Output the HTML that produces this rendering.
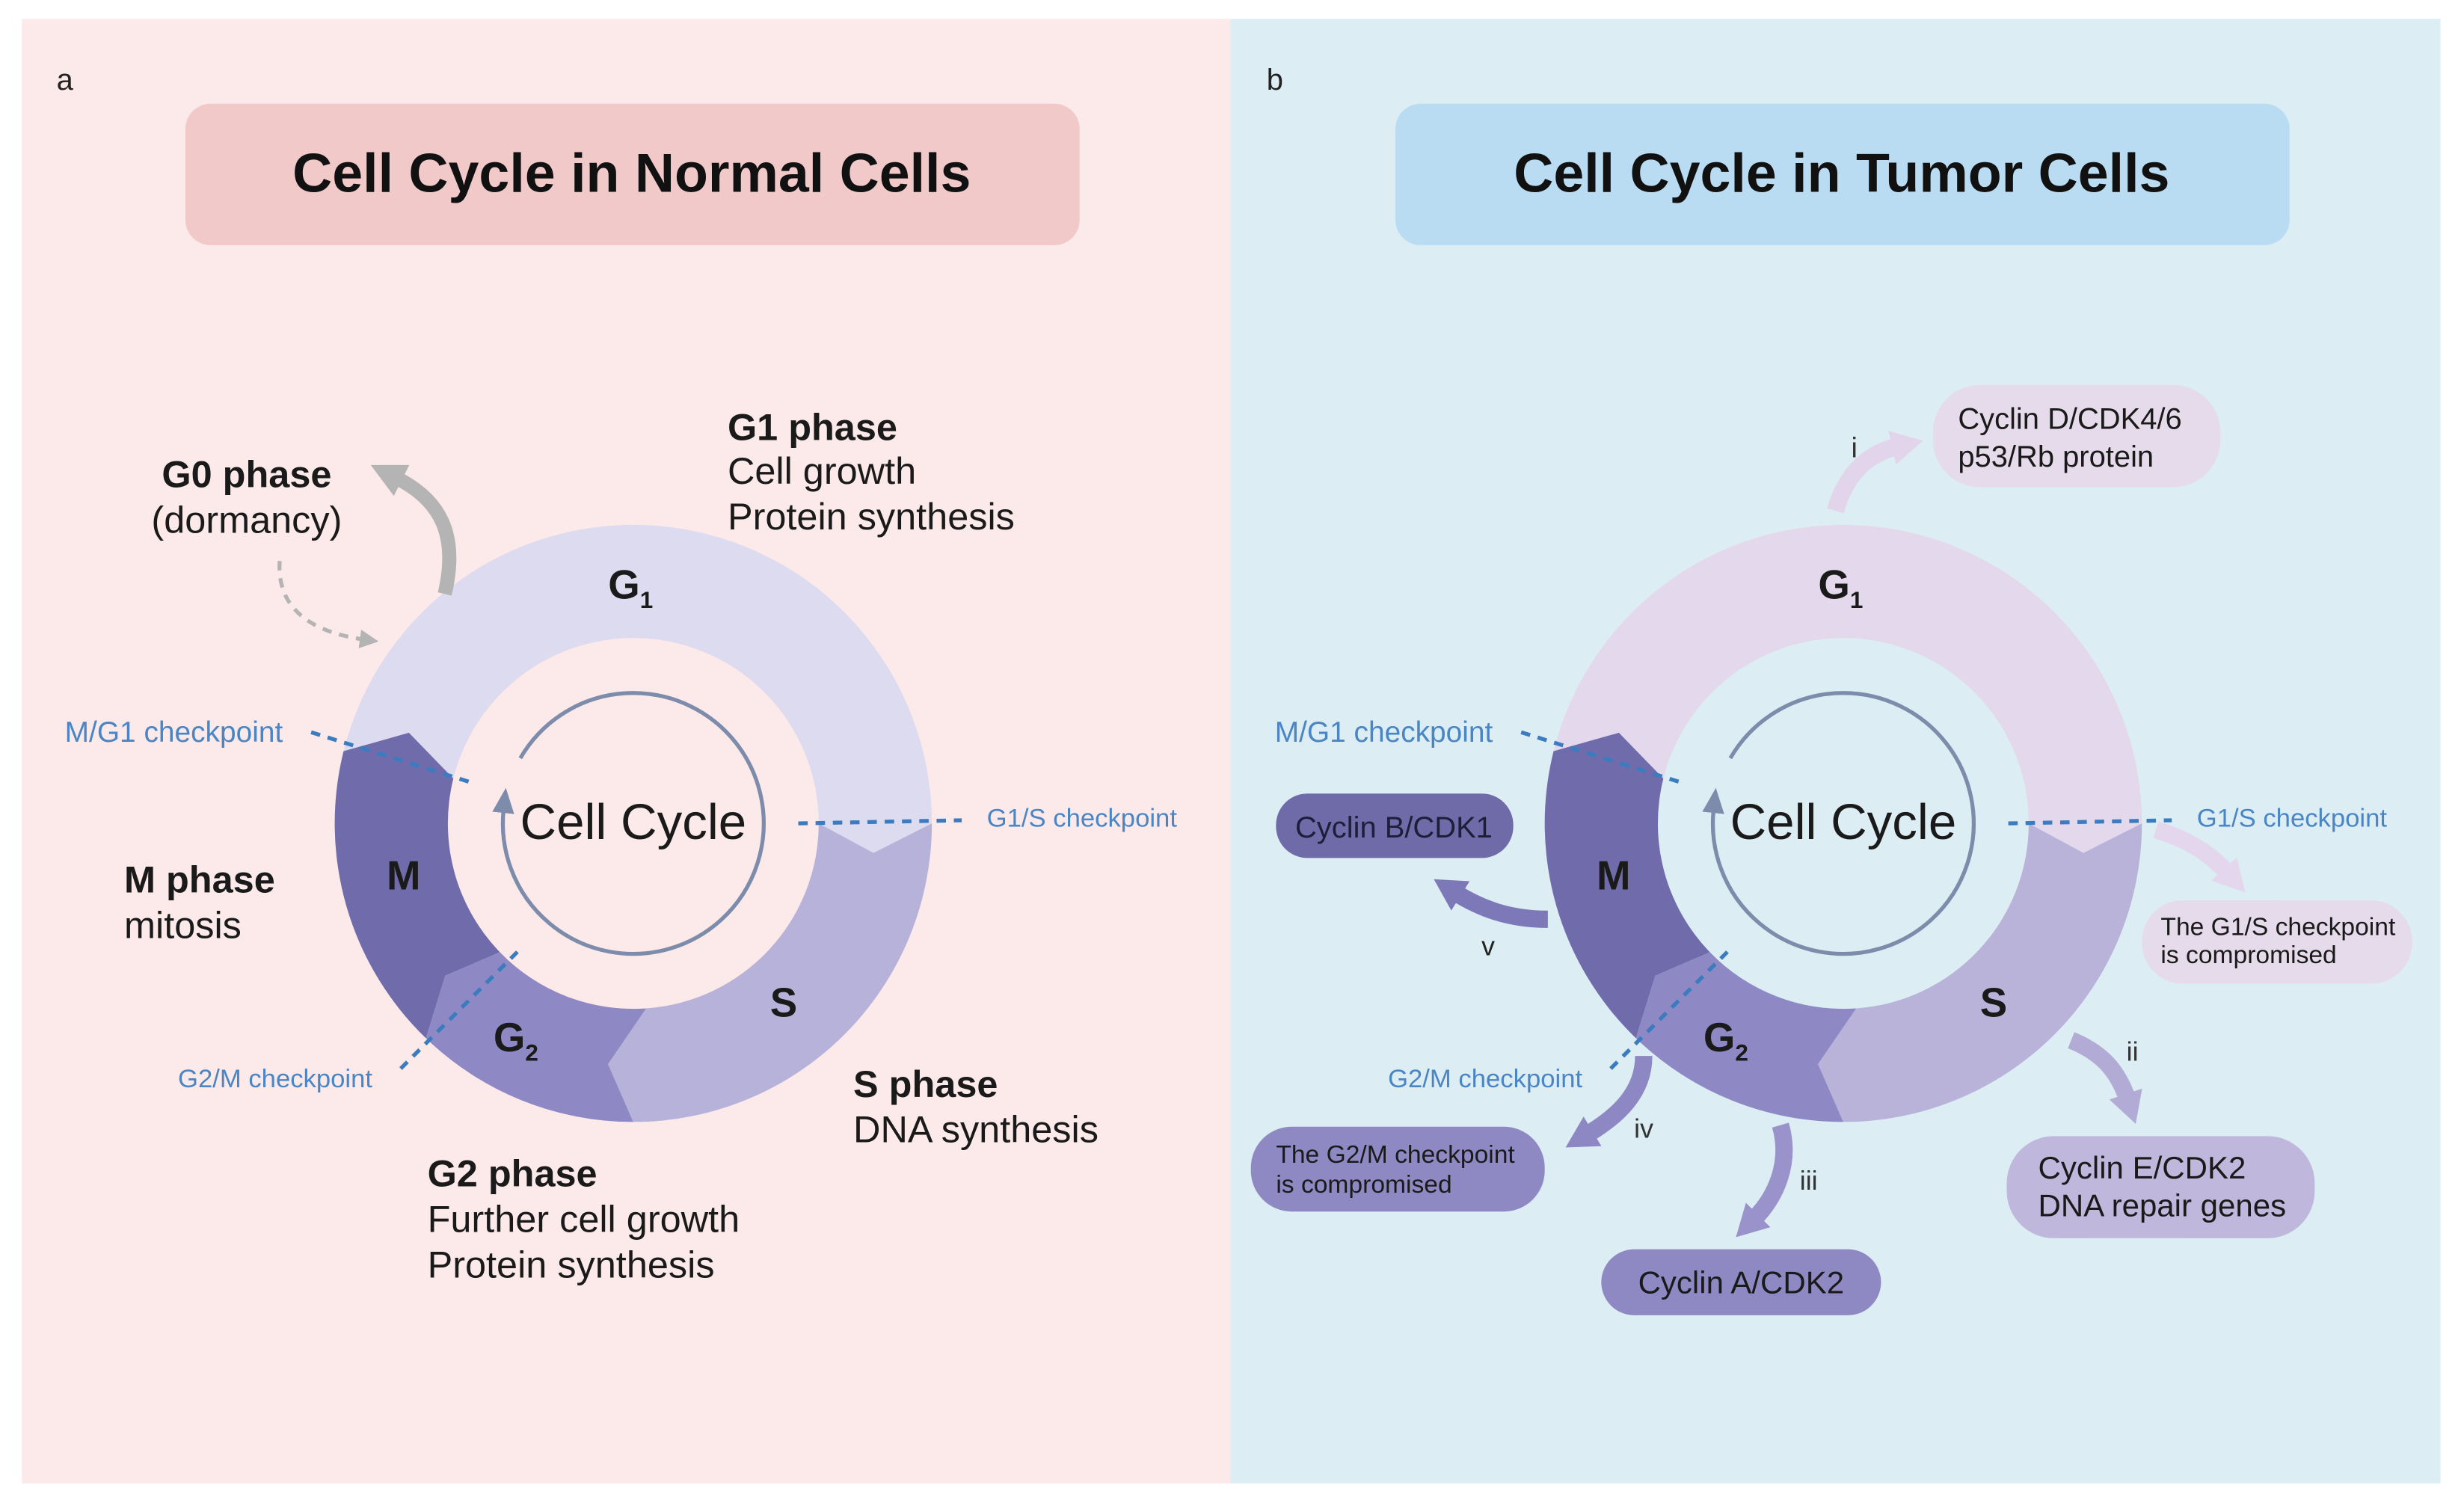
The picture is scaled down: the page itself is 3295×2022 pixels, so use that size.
<!DOCTYPE html>
<html><head><meta charset="utf-8">
<style>
html,body{margin:0;padding:0;background:#fff;}
svg{display:block;}
text{font-family:"Liberation Sans",sans-serif;}
</style></head>
<body>
<svg id="s" width="3295" height="2022" viewBox="0 0 1568 962.2" xmlns="http://www.w3.org/2000/svg">
<defs>
<marker id="ag" markerUnits="userSpaceOnUse" markerWidth="26" markerHeight="26" refX="4" refY="13" orient="auto"><path d="M0,2 L22,13 L0,24 Z" fill="#b4b4b4"/></marker>
<marker id="agd" markerUnits="userSpaceOnUse" markerWidth="14" markerHeight="14" refX="3" refY="7" orient="auto"><path d="M0,1 L12,7 L0,13 Z" fill="#b4b4b4"/></marker>
<marker id="m1" markerUnits="userSpaceOnUse" markerWidth="26" markerHeight="26" refX="4" refY="13" orient="auto"><path d="M0,2 L20,13 L0,24 Z" fill="#e2d4ea"/></marker>
<marker id="m2" markerUnits="userSpaceOnUse" markerWidth="26" markerHeight="26" refX="4" refY="13" orient="auto"><path d="M0,2 L20,13 L0,24 Z" fill="#7d78b8"/></marker>
<marker id="m3" markerUnits="userSpaceOnUse" markerWidth="26" markerHeight="26" refX="4" refY="13" orient="auto"><path d="M0,2 L20,13 L0,24 Z" fill="#e4d6ec"/></marker>
<marker id="m4" markerUnits="userSpaceOnUse" markerWidth="26" markerHeight="26" refX="4" refY="13" orient="auto"><path d="M0,2 L20,13 L0,24 Z" fill="#b2abd6"/></marker>
<marker id="m5" markerUnits="userSpaceOnUse" markerWidth="26" markerHeight="26" refX="4" refY="13" orient="auto"><path d="M0,2 L20,13 L0,24 Z" fill="#9992cb"/></marker>
<marker id="m6" markerUnits="userSpaceOnUse" markerWidth="26" markerHeight="26" refX="4" refY="13" orient="auto"><path d="M0,2 L20,13 L0,24 Z" fill="#8d87c3"/></marker>
<marker id="ci" markerUnits="userSpaceOnUse" markerWidth="20" markerHeight="20" refX="2" refY="10" orient="auto"><path d="M0,3 L16,10 L0,17 Z" fill="#7d8cab"/></marker>
</defs>
<rect x="14" y="12" width="769" height="932" fill="#fce9e9"/>
<rect x="783" y="12" width="770" height="932" fill="#dcedf3"/>
<text x="36" y="57" font-size="19" fill="#222">a</text>
<text x="806" y="57" font-size="19" fill="#222">b</text>
<rect x="118" y="66" width="569" height="90" rx="16" fill="#f2c9c9"/>
<text x="402" y="122" font-size="35" font-weight="bold" text-anchor="middle" fill="#111">Cell Cycle in Normal Cells</text>
<rect x="888" y="66" width="569" height="90" rx="16" fill="#badcf2"/>
<text x="1172" y="122" font-size="35" font-weight="bold" text-anchor="middle" fill="#111">Cell Cycle in Tumor Cells</text>
<g id="ringL"></g><g id="ringR"></g>

<g fill="#1a1a1a" font-size="24">
<text x="463" y="280" font-weight="bold">G1 phase</text>
<text x="463" y="308">Cell growth</text>
<text x="463" y="337">Protein synthesis</text>
<text x="157" y="310" font-weight="bold" text-anchor="middle">G0 phase</text>
<text x="157" y="339" text-anchor="middle">(dormancy)</text>
<text x="79" y="568" font-weight="bold">M phase</text>
<text x="79" y="597">mitosis</text>
<text x="543" y="698" font-weight="bold">S phase</text>
<text x="543" y="727">DNA synthesis</text>
<text x="272" y="755" font-weight="bold">G2 phase</text>
<text x="272" y="784">Further cell growth</text>
<text x="272" y="813">Protein synthesis</text>
</g>
<path d="M283,378 C292,340 280,318 252,304" fill="none" stroke="#b4b4b4" stroke-width="9" marker-end="url(#ag)"/>
<path d="M178,357 C176,385 195,402 232,407" fill="none" stroke="#b4b4b4" stroke-width="2.5" stroke-dasharray="6,5" marker-end="url(#agd)"/>

<path d="M1168,325 C1175,300 1190,288 1208,284" fill="none" stroke="#e2d4ea" stroke-width="11" marker-end="url(#m1)"/>
<rect x="1230" y="245" width="183" height="65" rx="30" fill="#e6dbea"/>
<text font-size="19" fill="#1a1a1a"><tspan x="1246" y="273">Cyclin D/CDK4/6</tspan><tspan x="1246" y="297">p53/Rb protein</tspan></text>
<text x="1178" y="291" font-size="18" fill="#333">i</text>

<rect x="812" y="505" width="151" height="41" rx="20" fill="#6f6aa8"/>
<text x="887" y="533" font-size="19" text-anchor="middle" fill="#1e1e3a">Cyclin B/CDK1</text>
<path d="M985,585 C960,585 942,578 926,568" fill="none" stroke="#7d78b8" stroke-width="11" marker-end="url(#m2)"/>
<text x="947" y="608" font-size="17" text-anchor="middle" fill="#222">v</text>

<path d="M1372,528 C1395,535 1408,545 1418,556" fill="none" stroke="#e4d6ec" stroke-width="11" marker-end="url(#m3)"/>
<rect x="1363" y="573" width="172" height="53" rx="26" fill="#e6dbeb"/>
<text font-size="16" fill="#1a1a1a"><tspan x="1375" y="595">The G1/S checkpoint</tspan><tspan x="1375" y="613">is compromised</tspan></text>

<path d="M1318,662 C1338,670 1348,682 1354,700" fill="none" stroke="#b2abd6" stroke-width="11" marker-end="url(#m4)"/>
<text x="1357" y="675" font-size="17" text-anchor="middle" fill="#333">ii</text>
<rect x="1277" y="723" width="196" height="65" rx="30" fill="#c0b7dc"/>
<text font-size="20" fill="#1a1a1a"><tspan x="1297" y="750">Cyclin E/CDK2</tspan><tspan x="1297" y="774">DNA repair genes</tspan></text>

<path d="M1133,716 C1140,740 1130,762 1116,776" fill="none" stroke="#9992cb" stroke-width="11" marker-end="url(#m5)"/>
<text x="1151" y="757" font-size="17" text-anchor="middle" fill="#333">iii</text>
<rect x="1019" y="795" width="178" height="42" rx="21" fill="#8f89c3"/>
<text x="1108" y="823" font-size="20" text-anchor="middle" fill="#1a1a1a">Cyclin A/CDK2</text>

<path d="M1046,672 C1046,695 1030,710 1010,722" fill="none" stroke="#8d87c3" stroke-width="11" marker-end="url(#m6)"/>
<text x="1046" y="724" font-size="17" text-anchor="middle" fill="#333">iv</text>
<rect x="796" y="717" width="187" height="54" rx="26" fill="#8f89c3"/>
<text font-size="16" fill="#1a1a1a"><tspan x="812" y="740">The G2/M checkpoint</tspan><tspan x="812" y="759">is compromised</tspan></text>
</svg>
<script>
(function(){
var NS="http://www.w3.org/2000/svg";
function el(p,t,a,txt){var e=document.createElementNS(NS,t);for(var k in a)e.setAttribute(k,a[k]);if(txt)e.textContent=txt;p.appendChild(e);return e;}
var RO=190,RM=154,RI=118;
function pt(cx,cy,r,a){a=a*Math.PI/180;return [cx+r*Math.cos(a),cy+r*Math.sin(a)];}
var B={mg:[-166,-158,-166],gs:[0,7,0],sg:[90,96,86],gm:[134,141,136]};
function seg(cx,cy,A,Bb,fill,g,add){
 var a1=Bb[0]+add,i1=Bb[2]+add,m1=Bb[1]+add;
 var s=pt(cx,cy,RO,A[0]),e=pt(cx,cy,RO,a1);
 var d="M"+s.join(",")+" A"+RO+","+RO+" 0 0 1 "+e.join(",");
 d+=" L"+pt(cx,cy,RM,m1).join(",")+" L"+pt(cx,cy,RI,i1).join(",");
 d+=" A"+RI+","+RI+" 0 0 0 "+pt(cx,cy,RI,A[2]).join(",");
 d+=" L"+pt(cx,cy,RM,A[1]).join(",")+" Z";
 el(g,"path",{d:d,fill:fill});
}
function ring(cx,g,cols){
 var cy=524;
 seg(cx,cy,B.mg,B.gs,cols[0],g,0);
 seg(cx,cy,B.gs,B.sg,cols[1],g,0);
 seg(cx,cy,B.sg,B.gm,cols[2],g,0);
 seg(cx,cy,B.gm,B.mg,cols[3],g,360);
 var r=83,s=pt(cx,cy,r,-150),e=pt(cx,cy,r,-174);
 el(g,"path",{d:"M"+s.join(",")+" A"+r+","+r+" 0 1 1 "+e.join(","),fill:"none",stroke:"#7d8cab","stroke-width":2.5,"marker-end":"url(#ci)"});
 el(g,"text",{x:cx,y:cy+10,"font-size":32,"text-anchor":"middle",fill:"#1a1a1a"},"Cell Cycle");
 var t=el(g,"text",{x:cx-16,y:381,"font-size":26,"font-weight":"bold",fill:"#1a1a1a"},"G");
 el(t,"tspan",{"font-size":15,dy:6},"1");
 el(g,"text",{x:cx+87,y:647,"font-size":26,"font-weight":"bold",fill:"#1a1a1a"},"S");
 var t2=el(g,"text",{x:cx-89,y:669,"font-size":26,"font-weight":"bold",fill:"#1a1a1a"},"G");
 el(t2,"tspan",{"font-size":15,dy:6},"2");
 el(g,"text",{x:cx-157,y:566,"font-size":26,"font-weight":"bold",fill:"#1a1a1a"},"M");
 var dc={stroke:"#3b7bbf","stroke-width":2.5,"stroke-dasharray":"6,5",fill:"none"};
 var o=cx-403;
 el(g,"line",Object.assign({x1:198+o,y1:466,x2:300+o,y2:498},dc));
 el(g,"line",Object.assign({x1:508+o,y1:524,x2:612+o,y2:522},dc));
 el(g,"line",Object.assign({x1:255+o,y1:680,x2:330+o,y2:605},dc));
 el(g,"text",{x:180+o,y:472,"font-size":18.5,"text-anchor":"end",fill:"#4a86c5"},"M/G1 checkpoint");
 el(g,"text",{x:628+o,y:526,"font-size":16.5,fill:"#4a86c5"},"G1/S checkpoint");
 el(g,"text",{x:237+o,y:692,"font-size":16.5,"text-anchor":"end",fill:"#4a86c5"},"G2/M checkpoint");
}
ring(403,document.getElementById("ringL"),["#dddbf0","#b6b2da","#8e89c4","#706cab"]);
ring(1173,document.getElementById("ringR"),["#e4d9ec","#b9b3d9","#8e89c4","#706cab"]);
})();
</script>
</body></html>
